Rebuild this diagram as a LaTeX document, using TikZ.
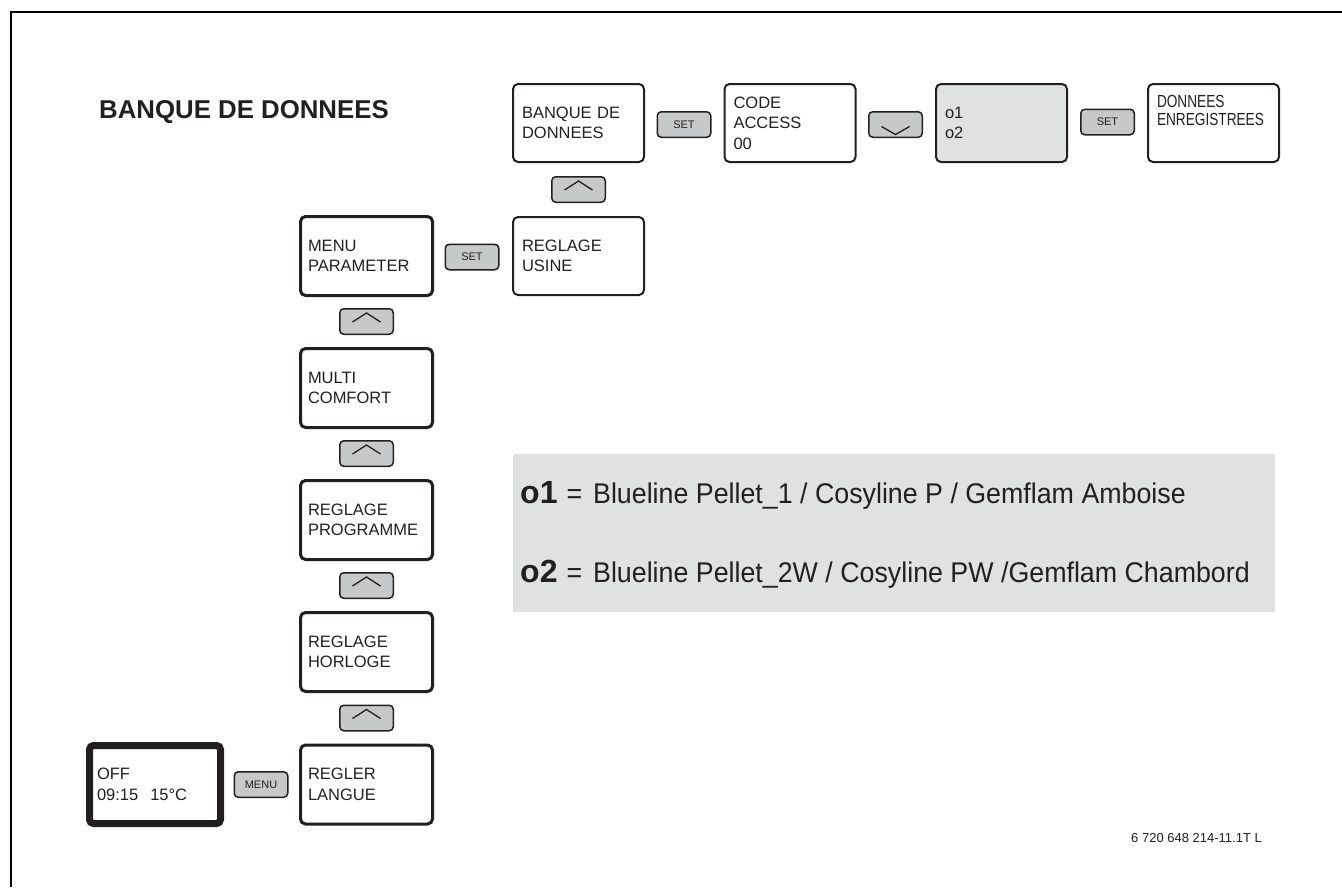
\documentclass[tikz,border=0pt]{standalone}
\usepackage{fontspec}
\setmainfont{Liberation Sans}
\newfontfamily\narrowfont{Liberation Sans}[FakeStretch=0.78]
\newfontfamily\legendfont{Liberation Sans}[FakeStretch=0.94]
\usetikzlibrary{calc}
\definecolor{ink}{HTML}{231F20}
\definecolor{btngray}{HTML}{C7C8CA}
\definecolor{screengray}{HTML}{E0E1E3}
\tikzset{
  scr/.style={draw=ink, line width=2pt, rounded corners=5pt, minimum width=131pt, minimum height=78pt,
    text width=113pt, inner xsep=9pt, inner ysep=0pt, align=left, text=ink,
    font=\fontsize{16.5}{20.5}\selectfont},
  scrL/.style={scr, line width=3pt, minimum width=132pt, minimum height=79pt, text width=117pt, inner xsep=7.5pt},
  homescr/.style={scr, line width=7pt, rounded corners=4pt, minimum width=131pt, minimum height=78pt, text width=116pt, inner xsep=7.5pt},
  btn/.style={draw=ink, fill=btngray, line width=1.5pt, rounded corners=4pt, minimum width=53.5pt,
    minimum height=25.5pt, inner sep=0pt, text=ink, font=\fontsize{11}{11}\selectfont},
  chev/.style={draw=ink, line width=1.3pt},
  lbl/.style={inner sep=0pt, text=ink}
}
\newcommand\upchev[1]{\draw[chev] ($(#1.center)+(-14,0.5)$) -- ($(#1.center)+(0,-8.5)$) -- ($(#1.center)+(14,0.5)$);}
\newcommand\downchev[1]{\draw[chev] ($(#1.center)+(-14,2)$) -- ($(#1.center)+(0,10)$) -- ($(#1.center)+(14,2)$);}
\begin{document}
\begin{tikzpicture}[x=1pt,y=-1pt]
\useasboundingbox (0,0) rectangle (1342,887);
% frame
\draw[line width=2pt, black] (10.5,887) -- (10.5,11.8) -- (1342,11.8);
% title
\node[lbl, anchor=base west, font=\bfseries\fontsize{25.8}{25.8}\selectfont] (title) at (99,118) {BANQUE DE DONNEES};
% top row
\node[scr] (bdd) at (578.5,123) {BANQUE DE\\DONNEES};
\node[btn] (set1) at (684,124.5) {SET};
\node[scr] (code) at (790,123) {CODE\\ACCESS\\00};
\node[btn] (dn) at (895.5,124.5) {};
\downchev{dn}
\node[scr, fill=screengray] (sel) at (1001.5,123) {o1\\o2};
\node[btn] (set2) at (1107.5,122) {SET};
\node[scr, font=\narrowfont\fontsize{17.5}{18}\selectfont, text depth=44pt] (saved) at (1213.5,123) {DONNEES\\ENREGISTREES};
\node[btn] (up0) at (578.5,189.5) {};
\upchev{up0}
\node[scr] (usine) at (578.5,256) {REGLAGE\\USINE};
% left column
\node[scrL] (menu) at (366.5,256) {MENU\\PARAMETER};
\node[btn] (set3) at (472,257) {SET};
\node[btn] (up1) at (366.5,321.5) {};
\upchev{up1}
\node[scrL] (multi) at (366.5,388) {MULTI\\COMFORT};
\node[btn] (up2) at (366.5,453.5) {};
\upchev{up2}
\node[scrL] (prog) at (366.5,520) {REGLAGE\\PROGRAMME};
\node[btn] (up3) at (366.5,585.5) {};
\upchev{up3}
\node[scrL] (clock) at (366.5,652) {REGLAGE\\HORLOGE};
\node[btn] (up4) at (366.5,718) {};
\upchev{up4}
\node[scrL] (lang) at (366.5,784.5) {REGLER\\LANGUE};
\node[btn] (menubtn) at (261,784.5) {MENU};
\node[homescr] (home) at (155,784.5) {OFF\\09:15\hspace{12pt}15°C};
% legend panel
\node[fill=screengray, minimum width=762pt, minimum height=158pt, inner sep=0pt, anchor=north west] (panel) at (513,454) {};
\node[lbl, anchor=base west] (o1) at (520,503) {{\bfseries\fontsize{32}{32}\selectfont o1}{\legendfont\fontsize{28.5}{28.5}\selectfont\hspace{9pt}=\hspace{11pt}Blueline Pellet\_1 / Cosyline P / Gemflam Amboise}};
\node[lbl, anchor=base west] (o2) at (520,582) {{\bfseries\fontsize{32}{32}\selectfont o2}{\legendfont\fontsize{28.5}{28.5}\selectfont\hspace{9pt}=\hspace{11pt}Blueline Pellet\_2W / Cosyline PW /Gemflam Chambord}};
% document number
\node[lbl, anchor=base east, font=\fontsize{13}{13}\selectfont] (docnum) at (1262,842) {6 720 648 214-11.1T L};
\end{tikzpicture}
\end{document}
